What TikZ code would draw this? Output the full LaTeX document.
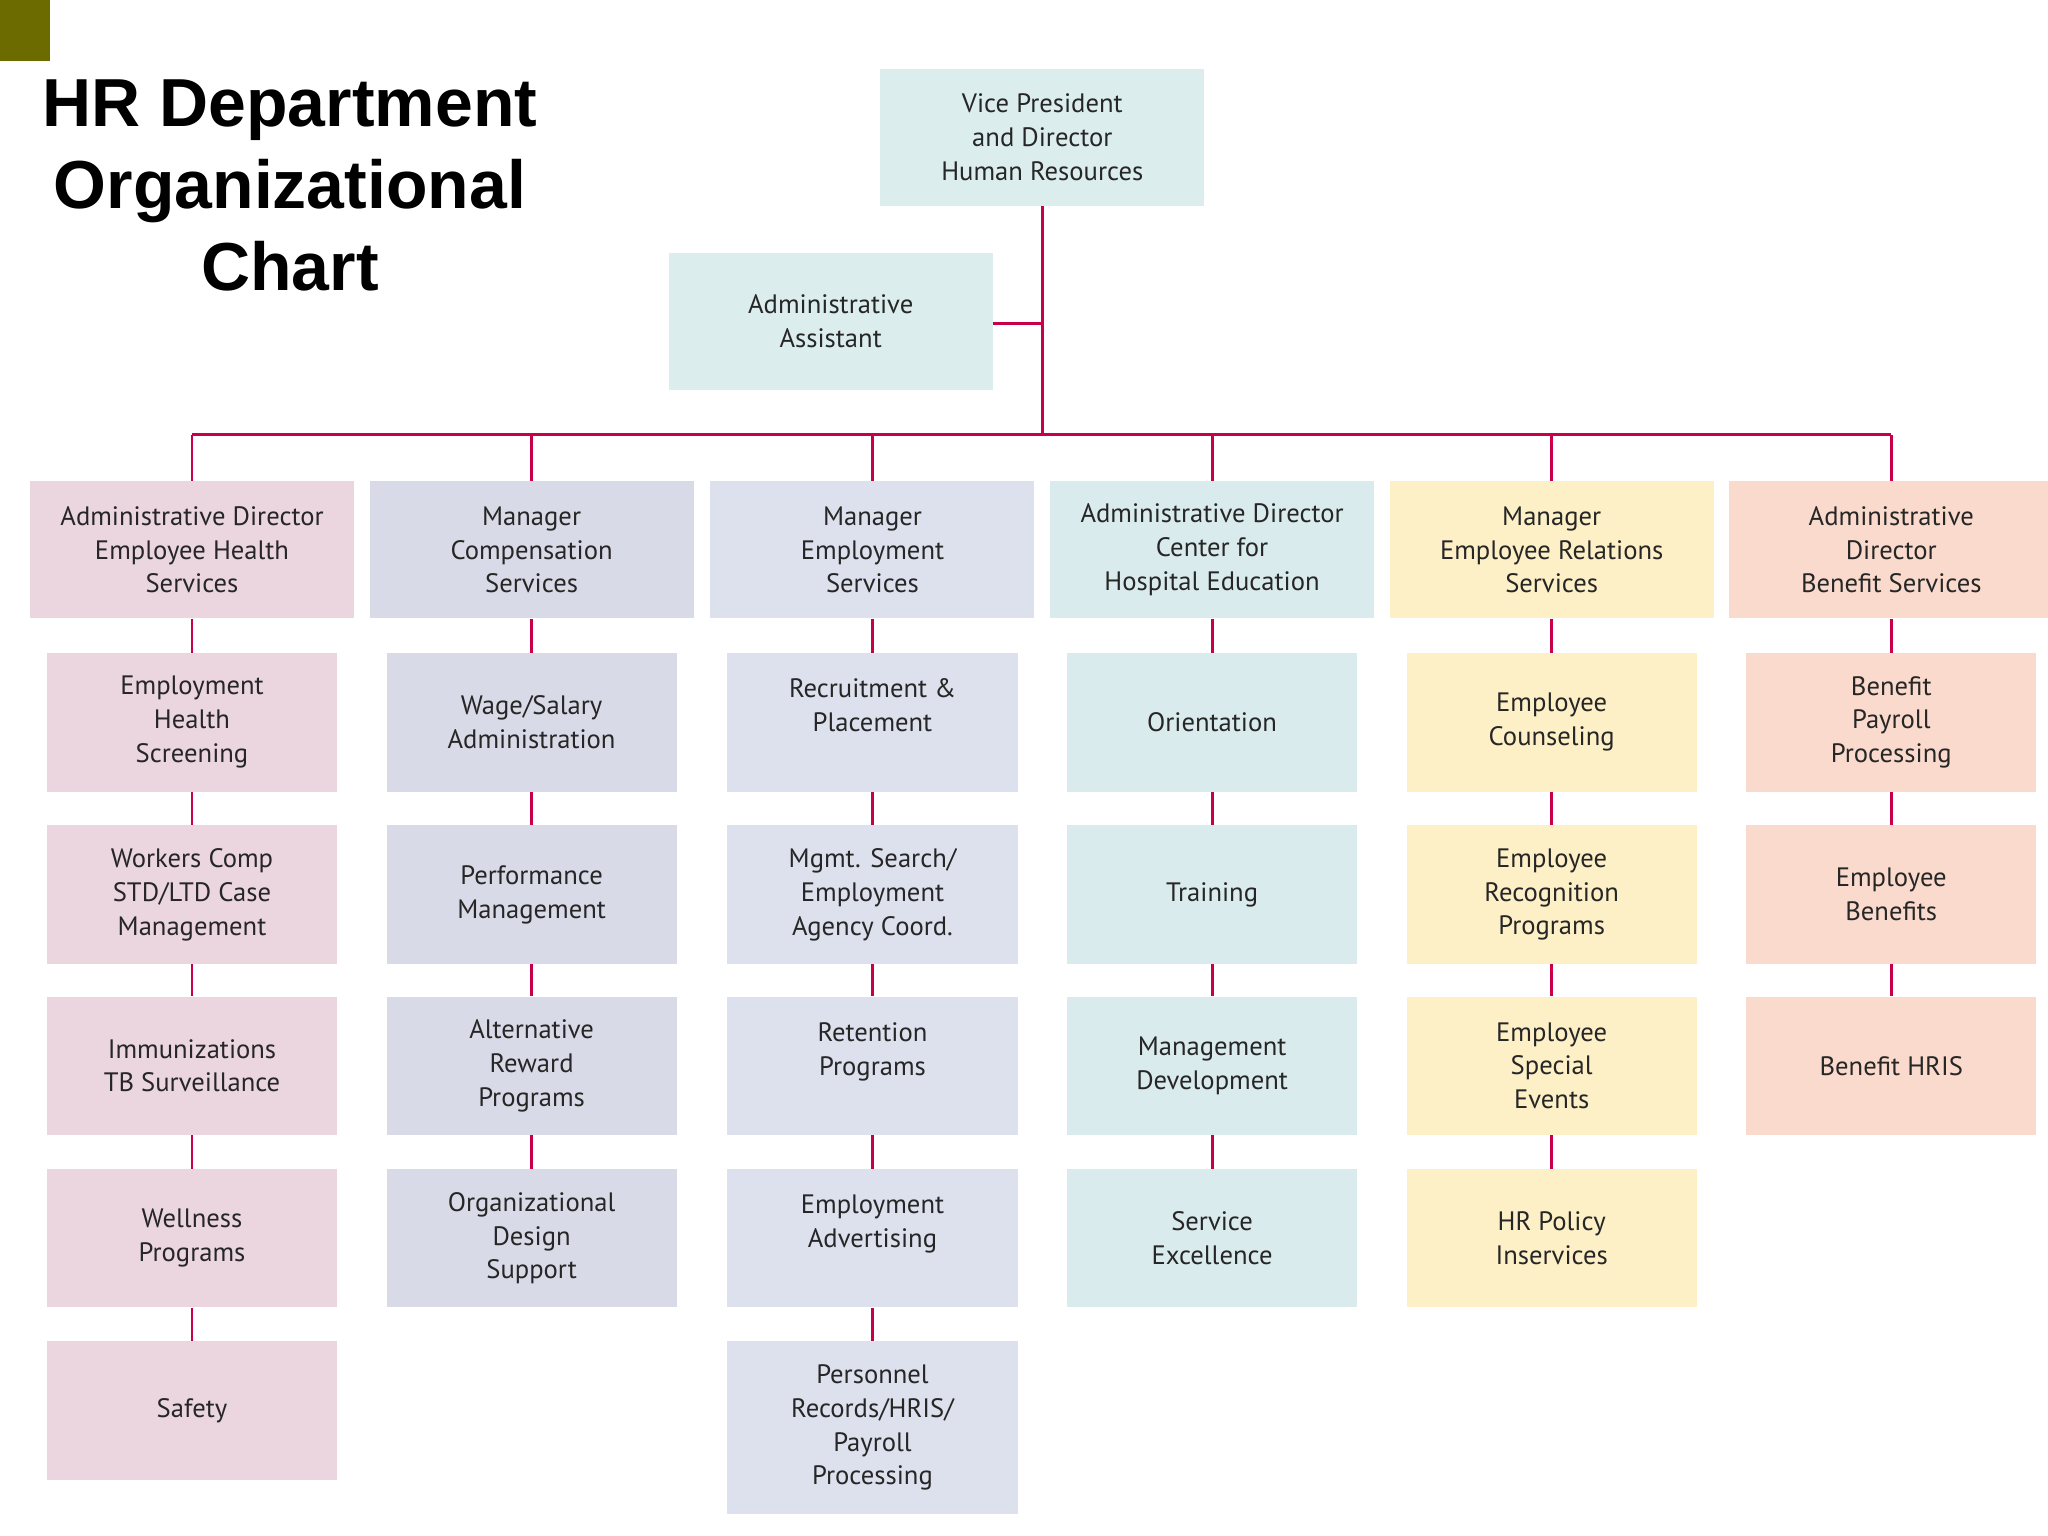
\documentclass[tikz,border=0pt]{standalone}
\usepackage{fontspec}
\setmainfont{PT Sans}
\setsansfont{Liberation Sans}
\begin{document}
\begin{tikzpicture}[x=0.025cm,y=-0.025cm,
  box/.style={align=center,inner sep=0pt,font=\fontsize{14.5}{18.4}\selectfont,text=black!85},
  hbox/.style={box,minimum width=6.2cm,minimum height=2.625cm},
  sbox/.style={box,minimum width=5.55cm,minimum height=2.65cm},
  conn/.style={draw=lin,line width=1.6pt}]
\definecolor{lin}{HTML}{C8004A}
\definecolor{cpink}{HTML}{EBD6E0}
\definecolor{clav}{HTML}{D9DAE7}
\definecolor{cemp}{HTML}{DDE1EE}
\definecolor{cteal}{HTML}{DAEBEE}
\definecolor{cyel}{HTML}{FDEFC6}
\definecolor{cpeach}{HTML}{F9DACC}
\definecolor{cvp}{HTML}{DCEDEE}
\definecolor{olive}{HTML}{6B6B00}
\useasboundingbox (0,0) rectangle (1568,1176);
\fill[white] (0,0) rectangle (1568,1176);
\fill[olive] (0,0) rectangle (38,47);
\node[font=\sffamily\bfseries\fontsize{37}{44.6}\selectfont,align=center] (title) at (222,142) {HR Department\\Organizational\\Chart};
\node[hbox,fill=cvp] (vp) at (798,105) {Vice President\\and Director\\Human Resources};
\node[hbox,fill=cvp] (aa) at (636,246) {Administrative\\Assistant};
\coordinate (bar) at (798,333);
\coordinate (aj) at (798,248);
\draw[conn] (vp.south) -- (bar);
\draw[conn] (aa.east|-aj) -- (aj);
\coordinate (bl) at (147,333);
\coordinate (br) at (1448,333);
\draw[conn] (bl) -- (br);
% columns
\def\rowy{{553,685,816,948,1080}}
\newcommand\column[4]{% index, x, color, header
  \node[hbox,fill=#3] (h#1) at (#2,421) {#4};
  \draw[conn] (#2,333) -- (h#1.north);
}
\column{1}{147}{cpink}{Administrative Director\\Employee Health\\Services}
\column{2}{407}{clav}{Manager\\Compensation\\Services}
\column{3}{668}{cemp}{Manager\\Employment\\Services}
\column{4}{928}{cteal}{Administrative Director\\Center for\\Hospital Education}
\column{5}{1188}{cyel}{Manager\\Employee Relations\\Services}
\column{6}{1448}{cpeach}{Administrative\\Director\\Benefit Services}
\newcommand\sub[6]{% col, row, x, y, color, text, prev
  \node[sbox,fill=#5] (s#1#2) at (#3,#4) {#6};
}
% col 1
\sub{1}{1}{147}{553}{cpink}{Employment\\Health\\Screening}
\sub{1}{2}{147}{685}{cpink}{Workers Comp\\STD/LTD Case\\Management}
\sub{1}{3}{147}{816}{cpink}{Immunizations\\TB Surveillance}
\sub{1}{4}{147}{948}{cpink}{Wellness\\Programs}
\sub{1}{5}{147}{1080}{cpink}{Safety}
% col 2
\sub{2}{1}{407}{553}{clav}{Wage/Salary\\Administration}
\sub{2}{2}{407}{685}{clav}{Performance\\Management}
\sub{2}{3}{407}{816}{clav}{Alternative\\Reward\\Programs}
\sub{2}{4}{407}{948}{clav}{Organizational\\Design\\Support}
% col 3
\sub{3}{1}{668}{553}{cemp}{Recruitment \&\\Placement\\\mbox{}}
\sub{3}{2}{668}{685}{cemp}{Mgmt. Search/\\Employment\\Agency Coord.}
\sub{3}{3}{668}{816}{cemp}{Retention\\Programs\\\mbox{}}
\sub{3}{4}{668}{948}{cemp}{Employment\\Advertising\\\mbox{}}
\node[box,fill=cemp,minimum width=5.55cm,minimum height=3.3cm] (s35) at (668,1093) {Personnel\\Records/HRIS/\\Payroll\\Processing};
% col 4
\sub{4}{1}{928}{553}{cteal}{Orientation}
\sub{4}{2}{928}{685}{cteal}{Training}
\sub{4}{3}{928}{816}{cteal}{Management\\Development}
\sub{4}{4}{928}{948}{cteal}{Service\\Excellence}
% col 5
\sub{5}{1}{1188}{553}{cyel}{Employee\\Counseling}
\sub{5}{2}{1188}{685}{cyel}{Employee\\Recognition\\Programs}
\sub{5}{3}{1188}{816}{cyel}{Employee\\Special\\Events}
\sub{5}{4}{1188}{948}{cyel}{HR Policy\\Inservices}
% col 6
\sub{6}{1}{1448}{553}{cpeach}{Benefit\\Payroll\\Processing}
\sub{6}{2}{1448}{685}{cpeach}{Employee\\Benefits}
\sub{6}{3}{1448}{816}{cpeach}{Benefit HRIS}
% connectors
\foreach \c/\n in {1/5,2/4,3/5,4/4,5/4,6/3}{
  \draw[conn] (h\c.south) -- (s\c1.north);
  \foreach \r [evaluate=\r as \p using int(\r-1)] in {2,...,\n}{
    \draw[conn] (s\c\p.south) -- (s\c\r.north);
  }
}
\end{tikzpicture}
\end{document}
